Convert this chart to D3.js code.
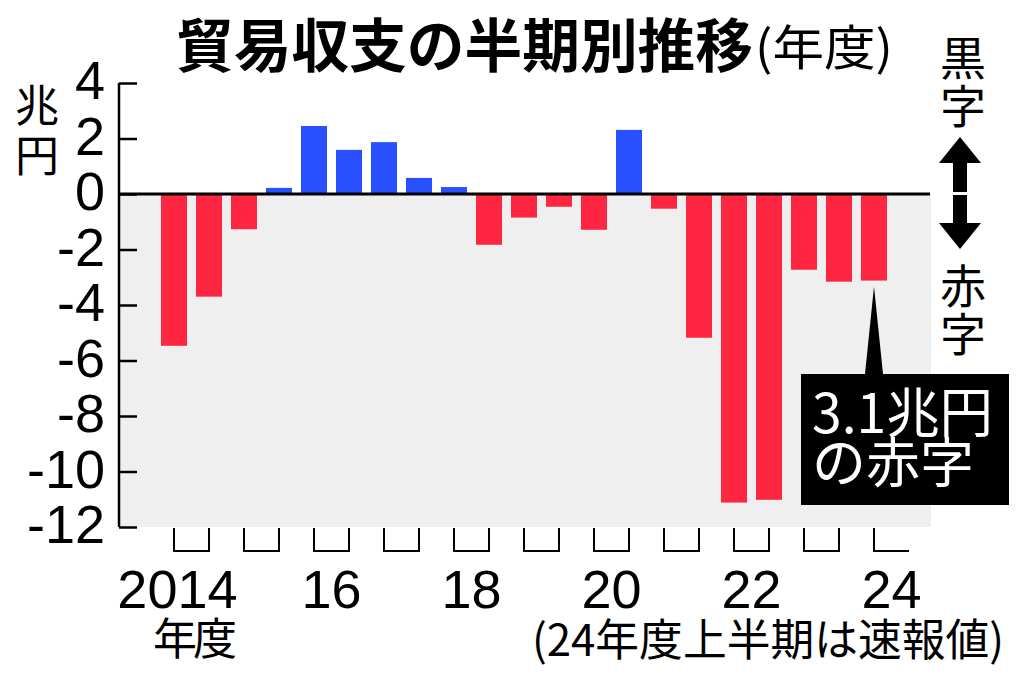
<!DOCTYPE html>
<html>
<head>
<meta charset="utf-8">
<script src="https://cdn.jsdelivr.net/npm/d3@7"></script>
<style>
  html, body { margin: 0; padding: 0; background: #fff; }
  .num { font-family: "Liberation Sans", Arial, sans-serif; }
  .jp { font-family: "Noto Sans CJK JP", sans-serif; }
</style>
</head>
<body>
<div id="chart"></div>
<script>
// half-year periods (fiscal year, 上 = first half, 下 = second half)
const periods = [
  "2014上", "2014下", "2015上", "2015下", "2016上", "2016下",
  "2017上", "2017下", "2018上", "2018下", "2019上", "2019下",
  "2020上", "2020下", "2021上", "2021下", "2022上", "2022下",
  "2023上", "2023下", "2024上"
];
// trade balance, trillion yen
const balance = [
  -5.47, -3.70, -1.27, 0.22, 2.45, 1.59,
  1.87, 0.58, 0.25, -1.83, -0.85, -0.46,
  -1.29, 2.31, -0.53, -5.18, -11.12, -11.02,
  -2.73, -3.16, -3.12
];
const fiscalYears = [2014, 2015, 2016, 2017, 2018, 2019, 2020, 2021, 2022, 2023, 2024];
const yearLabels = [
  { year: 2014, text: "2014" },
  { year: 2016, text: "16" },
  { year: 2018, text: "18" },
  { year: 2020, text: "20" },
  { year: 2022, text: "22" },
  { year: 2024, text: "24" }
];
const yTicks = [4, 2, 0, -2, -4, -6, -8, -10, -12];

const RED = "#ff2641";
const BLUE = "#2850ff";

const svg = d3.select("#chart")
  .append("svg")
  .attr("width", 1024)
  .attr("height", 678);

const xScale = d3.scaleBand()
  .domain(periods)
  .range([152, 896])
  .paddingInner(9 / 35)
  .paddingOuter(9 / 35);

const yScale = d3.scaleLinear()
  .domain([-12, 4])
  .range([527, 83]);

const axisX = 119;
const plotRight = 931;

// grey band for the deficit side
svg.append("rect")
  .attr("x", axisX)
  .attr("y", yScale(0))
  .attr("width", plotRight - axisX)
  .attr("height", yScale(-12) - yScale(0))
  .attr("fill", "#efefef");

// bars
svg.selectAll("rect.bar")
  .data(periods)
  .enter()
  .append("rect")
  .attr("class", "bar")
  .attr("x", (d) => xScale(d))
  .attr("y", (d, i) => yScale(Math.max(0, balance[i])))
  .attr("width", xScale.bandwidth())
  .attr("height", (d, i) => Math.abs(yScale(balance[i]) - yScale(0)))
  .attr("fill", (d, i) => (balance[i] >= 0 ? BLUE : RED));

// zero line
svg.append("line")
  .attr("x1", axisX)
  .attr("x2", plotRight - 1)
  .attr("y1", yScale(0))
  .attr("y2", yScale(0))
  .attr("stroke", "#000")
  .attr("stroke-width", 3);

// axis-y (ticks pointing inward)
const yAxis = svg.append("g")
  .attr("transform", "translate(" + axisX + ",0)")
  .call(d3.axisRight(yScale).tickValues(yTicks).tickSize(18).tickFormat(""));
yAxis.select(".domain").attr("d", "M0," + yScale(4) + "V" + yScale(-12))
  .attr("stroke", "#000").attr("stroke-width", 2.5);
yAxis.selectAll(".tick line").attr("stroke", "#000").attr("stroke-width", 2.5);

svg.selectAll("text.ylab")
  .data(yTicks)
  .enter()
  .append("text")
  .attr("class", "ylab num")
  .attr("x", 105)
  .attr("y", (d) => yScale(d) + 16)
  .attr("text-anchor", "end")
  .style("font-size", "54px")
  .text((d) => d);

// year brackets under the axis
const center = (p) => xScale(p) + xScale.bandwidth() / 2;
const bTop = yScale(-12) + 1;
const bBot = 551;
fiscalYears.forEach((yr) => {
  const x1 = center(yr + "上");
  const hasSecond = periods.indexOf(yr + "下") >= 0;
  const x2 = hasSecond ? center(yr + "下") : x1 + xScale.step();
  let d = "M" + x1 + "," + bTop + "V" + bBot + "H" + x2;
  if (hasSecond) d += "V" + bTop;
  svg.append("path")
    .attr("d", d)
    .attr("fill", "none")
    .attr("stroke", "#000")
    .attr("stroke-width", 2);
});

// axis-x labels
svg.selectAll("text.xlab")
  .data(yearLabels)
  .enter()
  .append("text")
  .attr("class", "xlab num")
  .attr("x", (d) => {
    const mid = center(d.year + "上") + xScale.step() / 2;
    return d.year === 2014 ? mid + 46 : mid;
  })
  .attr("y", 608)
  .attr("text-anchor", (d) => (d.year === 2014 ? "end" : "middle"))
  .style("font-size", "54px")
  .text((d) => d.text);

svg.append("text")
  .attr("class", "jp")
  .attr("x", 153)
  .attr("y", 655)
  .attr("textLength", 84)
  .style("font-size", "44px")
  .text("年度");

svg.append("text")
  .attr("class", "jp")
  .attr("x", 532)
  .attr("y", 656)
  .attr("textLength", 472)
  .attr("lengthAdjust", "spacingAndGlyphs")
  .style("font-size", "44px")
  .text("(24年度上半期は速報値)");

// title
svg.append("text")
  .attr("class", "jp")
  .attr("x", 176)
  .attr("y", 67)
  .attr("textLength", 577)
  .attr("lengthAdjust", "spacingAndGlyphs")
  .style("font-size", "58px")
  .style("font-weight", "bold")
  .text("貿易収支の半期別推移");

svg.append("text")
  .attr("class", "jp")
  .attr("x", 755)
  .attr("y", 65)
  .attr("textLength", 138)
  .attr("lengthAdjust", "spacingAndGlyphs")
  .style("font-size", "48px")
  .text("(年度)");

// unit label, vertical
[["兆", 122], ["円", 172]].forEach(([ch, y]) => {
  svg.append("text")
    .attr("class", "jp")
    .attr("x", 37)
    .attr("y", y)
    .attr("text-anchor", "middle")
    .style("font-size", "44px")
    .text(ch);
});

// surplus / deficit legend on the right
[["黒", 75], ["字", 123], ["赤", 303], ["字", 351]].forEach(([ch, y]) => {
  svg.append("text")
    .attr("class", "jp")
    .attr("x", 963)
    .attr("y", y)
    .attr("text-anchor", "middle")
    .style("font-size", "46px")
    .text(ch);
});

// up / down arrows
svg.append("path")
  .attr("d", "M960,137L981,163H967V192H953V163H939Z")
  .attr("fill", "#000");
svg.append("path")
  .attr("d", "M953,195H967V223H981L960,249L939,223H953Z")
  .attr("fill", "#000");

// callout for the latest half year
const last = periods[periods.length - 1];
const lastX = center(last);
const lastY = yScale(balance[balance.length - 1]);
const boxTop = 374;
svg.append("path")
  .attr("d", "M" + lastX + "," + (lastY + 6) + "L" + (lastX + 9) + "," + boxTop + "H" + (lastX - 9) + "Z")
  .attr("fill", "#000");

svg.append("rect")
  .attr("x", 801)
  .attr("y", boxTop)
  .attr("width", 208)
  .attr("height", 131)
  .attr("fill", "#000");

svg.append("text")
  .attr("class", "jp")
  .attr("x", 812)
  .attr("y", 433)
  .attr("textLength", 181)
  .attr("lengthAdjust", "spacingAndGlyphs")
  .style("font-size", "54px")
  .style("fill", "#fff")
  .text("3.1兆円");

svg.append("text")
  .attr("class", "jp")
  .attr("x", 812)
  .attr("y", 483)
  .style("font-size", "54px")
  .style("fill", "#fff")
  .text("の赤字");
</script>
</body>
</html>
